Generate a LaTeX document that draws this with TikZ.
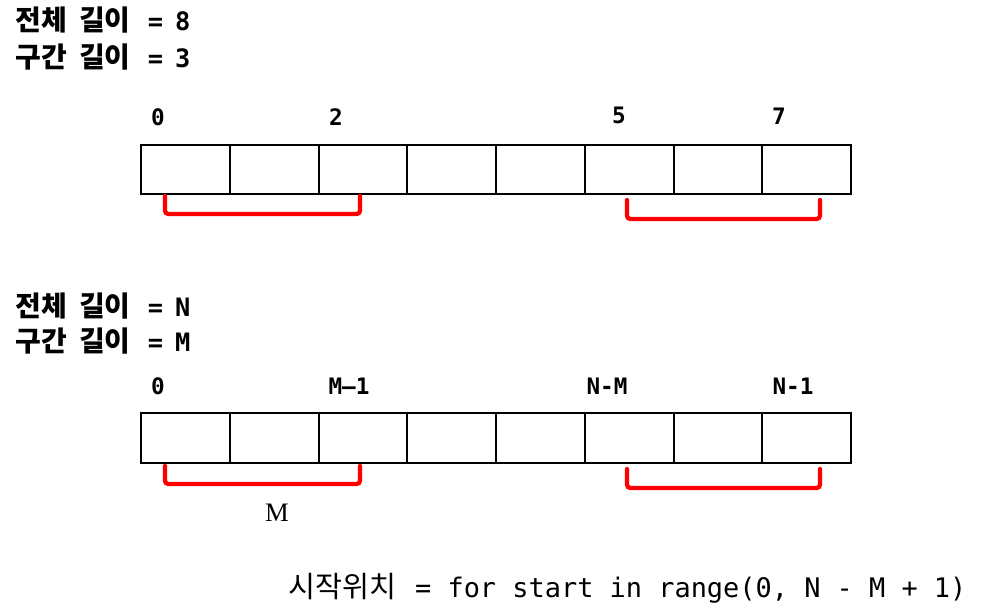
\documentclass[tikz,border=0pt]{standalone}
\usepackage{fontspec}
\setmainfont{Liberation Serif}
\setmonofont{DejaVu Sans Mono}
\newfontfamily\krfont{Noto Sans CJK KR}

\tikzset{every picture/.style={line width=0.75pt}}
\tikzset{
  cellbox/.style={line width=1.5},
  redspan/.style={draw={rgb, 255:red, 255; green, 0; blue, 0 }, line width=3.2, rounded corners=2.5, line cap=round},
  headtext/.style={anchor=west, inner sep=0.75pt, font=\bfseries},
  idxtext/.style={inner sep=0.75pt, font=\fontsize{17}{20}\selectfont\ttfamily\bfseries},
}
\newcommand{\headline}[2]{{\krfont\fontsize{21}{24}\selectfont #1\hspace{9pt}길이}\hspace{13pt}{\ttfamily\fontsize{19}{22}\selectfont =\hspace{9pt}#2}}

\begin{document}
\begin{tikzpicture}[x=0.75pt,y=0.75pt,yscale=-1,xscale=1]
\useasboundingbox (0,0) rectangle (984,616);

% Text Node
\draw (14,20) node (total8) [headtext] {\headline{전체}{8}};
% Text Node
\draw (14,57) node (part3) [headtext] {\headline{구간}{3}};

%Shape: Rectangle
\draw [cellbox] (141,145) rectangle (230,194) ;
\draw [cellbox] (230,145) rectangle (318.5,194) ;
\draw [cellbox] (318.5,145) rectangle (407,194) ;
\draw [cellbox] (407,145) rectangle (496,194) ;
\draw [cellbox] (496,145) rectangle (585,194) ;
\draw [cellbox] (585,145) rectangle (673.5,194) ;
\draw [cellbox] (673.5,145) rectangle (762,194) ;
\draw [cellbox] (762,145) rectangle (851,194) ;

% Text Node
\draw (158,117) node (firstA) [idxtext] {0};
% Text Node
\draw (336,117) node (lastA) [idxtext] {2};
% Text Node
\draw (619,115) node (firstB) [idxtext] {5};
% Text Node
\draw (779,116) node (lastB) [idxtext] {7};

%Straight Lines
\draw [redspan] (165,196) -- (165,214) -- (360,214) -- (360,196) ;
%Straight Lines
\draw [redspan] (627,200) -- (627,219) -- (820,219) -- (820,200) ;

% Text Node
\draw (14,306) node (totalN) [headtext] {\headline{전체}{N}};
% Text Node
\draw (14,341) node (partM) [headtext] {\headline{구간}{M}};

%Shape: Rectangle
\draw [cellbox] (141,413) rectangle (230,463) ;
\draw [cellbox] (230,413) rectangle (318.5,463) ;
\draw [cellbox] (318.5,413) rectangle (407,463) ;
\draw [cellbox] (407,413) rectangle (496,463) ;
\draw [cellbox] (496,413) rectangle (585,463) ;
\draw [cellbox] (585,413) rectangle (673.5,463) ;
\draw [cellbox] (673.5,413) rectangle (762,463) ;
\draw [cellbox] (762,413) rectangle (851,463) ;

% Text Node
\draw (158,386) node (firstC) [idxtext] {0};
% Text Node
\draw (349,386) node (lastC) [idxtext] {M–1};
% Text Node
\draw (607,386) node (firstD) [idxtext] {N-M};
% Text Node
\draw (793,386) node (lastD) [idxtext] {N-1};

%Straight Lines
\draw [redspan] (165,466) -- (165,484) -- (360,484) -- (360,466) ;
%Straight Lines
\draw [redspan] (627,469) -- (627,488) -- (820,488) -- (820,469) ;

% Text Node
\draw (277,513) node (spanM) [inner sep=0.75pt, font=\fontsize{20}{24}\selectfont] {M};

% Text Node
\draw (287,588) node (startpos) [anchor=west, inner sep=0.75pt] {{\krfont\fontsize{22}{26}\selectfont 시작위치}\hspace{14pt}{\ttfamily\fontsize{20.2}{24}\selectfont =\ for start in range(0, N - M + 1)}};

\end{tikzpicture}
\end{document}
